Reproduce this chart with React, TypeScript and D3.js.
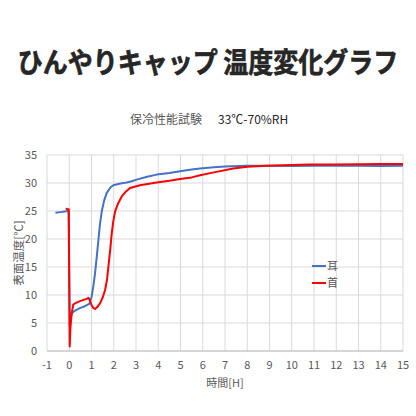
import React from "react";
import * as d3 from "d3";

// 耳 (ear) series
const earTime = [-0.62, -0.4, -0.2, -0.03, 0.02, 0.05, 0.08, 0.15, 0.3, 0.5, 0.7, 0.9, 1.0, 1.08, 1.16, 1.24, 1.31, 1.38, 1.46, 1.57, 1.68, 1.85, 1.98, 2.3, 2.58, 2.8, 3.03, 3.5, 3.93, 4.5, 4.98, 5.5, 5.88, 6.5, 7.0, 7.97, 9, 10, 11, 12, 13, 14, 15];
const earTemp = [24.7, 24.8, 24.9, 25.0, 4.5, 5.5, 6.3, 6.9, 7.3, 7.7, 8.0, 8.4, 9.6, 11.5, 13.9, 17, 19.8, 22.6, 24.9, 26.9, 28.2, 29.2, 29.6, 29.9, 30.1, 30.3, 30.6, 31.1, 31.5, 31.8, 32.1, 32.4, 32.6, 32.8, 32.95, 33.1, 33.1, 33.05, 33.1, 33.1, 33.1, 33.05, 33.1];

// 首 (neck) series
const neckTime = [-0.15, -0.1, -0.02, 0.02, 0.05, 0.11, 0.18, 0.3, 0.48, 0.78, 0.86, 0.93, 1.0, 1.08, 1.16, 1.25, 1.38, 1.5, 1.61, 1.7, 1.76, 1.84, 1.91, 1.98, 2.06, 2.2, 2.36, 2.55, 2.73, 3.18, 3.93, 4.5, 4.98, 5.5, 5.88, 6.5, 7.37, 8, 8.87, 10, 10.8, 12, 13, 14, 15];
const neckTemp = [25.5, 25.3, 25.3, 0.8, 4.0, 6.7, 8.3, 8.6, 8.9, 9.3, 9.5, 9.0, 8.2, 7.7, 7.5, 7.8, 8.5, 9.5, 10.9, 12.8, 15.1, 18, 21.0, 23.2, 24.9, 26.4, 27.6, 28.5, 29.1, 29.6, 30.1, 30.4, 30.7, 31.0, 31.4, 31.9, 32.6, 32.9, 33.1, 33.2, 33.3, 33.3, 33.35, 33.4, 33.4];

const xTicks = d3.range(-1, 16);
const yTicks = [0, 5, 10, 15, 20, 25, 30, 35];
const legendNames = ["耳", "首"];
const colors = ["#4472C4", "#FF0000"];

const W = 416;
const H = 416;
const left = 47;
const right = 403;
const top = 155;
const bottom = 351;

const jp = "'Noto Sans CJK JP', 'Noto Sans', sans-serif";

export default function App() {
  const x = d3.scaleLinear().domain([-1, 15]).range([left, right]);
  const y = d3.scaleLinear().domain([0, 35]).range([bottom, top]);

  const line = d3
    .line<[number, number]>()
    .x((d) => x(d[0]))
    .y((d) => y(d[1]));

  const series = [
    d3.zip(earTime, earTemp) as [number, number][],
    d3.zip(neckTime, neckTemp) as [number, number][],
  ];

  return (
    <div style={{ position: "absolute", left: 0, top: 0 }}>
      <svg width={W} height={H} style={{ display: "block", background: "#fff" }}>
        <g transform="translate(208, 73) scale(1, 1.12)">
          <text
            x={0}
            y={0}
            textAnchor="middle"
            fontFamily={jp}
            fontWeight="bold"
            fontSize={25}
            fill="#262626"
            stroke="#262626"
            strokeWidth={0.6}
          >
            ひんやりキャップ 温度変化グラフ
          </text>
        </g>

        <text x={130} y={124} fontFamily={jp} fontSize={12} fill="#595959">
          保冷性能試験
        </text>
        <text x={218} y={124} fontFamily={jp} fontSize={12} fill="#262626">
          33℃-70%RH
        </text>

        {/* grid */}
        {yTicks.map((t) => (
          <line key={"gy" + t} x1={left} x2={right} y1={y(t)} y2={y(t)} stroke="#d9d9d9" strokeWidth={1} />
        ))}
        {xTicks.map((t) => (
          <line key={"gx" + t} x1={x(t)} x2={x(t)} y1={top} y2={bottom} stroke="#d9d9d9" strokeWidth={1} />
        ))}
        <line x1={left} x2={right} y1={bottom} y2={bottom} stroke="#bfbfbf" strokeWidth={1} />

        {/* tick labels */}
        {yTicks.map((t) => (
          <text key={"ly" + t} x={37} y={y(t) + 4} textAnchor="end" fontFamily={jp} fontSize={11} fill="#595959">
            {t}
          </text>
        ))}
        {xTicks.map((t) => (
          <text key={"lx" + t} x={x(t)} y={368.5} textAnchor="middle" fontFamily={jp} fontSize={11} fill="#595959">
            {t}
          </text>
        ))}

        <text x={(left + right) / 2} y={387} textAnchor="middle" fontFamily={jp} fontSize={11} fill="#595959">
          時間[H]
        </text>
        <text
          transform={`translate(23, ${(top + bottom) / 2}) rotate(-90)`}
          textAnchor="middle"
          fontFamily={jp}
          fontSize={11.5}
          fill="#595959"
        >
          表面温度[℃]
        </text>

        {/* series */}
        {series.map((s, i) => (
          <path key={"s" + i} d={line(s) || ""} fill="none" stroke={colors[i]} strokeWidth={2} strokeLinejoin="round" />
        ))}

        {/* legend */}
        {legendNames.map((n, i) => (
          <g key={"lg" + i} transform={`translate(312, ${266 + i * 17})`}>
            <line x1={0} x2={14} y1={0} y2={0} stroke={colors[i]} strokeWidth={2} />
            <text x={15} y={4} fontFamily={jp} fontSize={11} fill="#595959">
              {n}
            </text>
          </g>
        ))}
      </svg>
    </div>
  );
}
